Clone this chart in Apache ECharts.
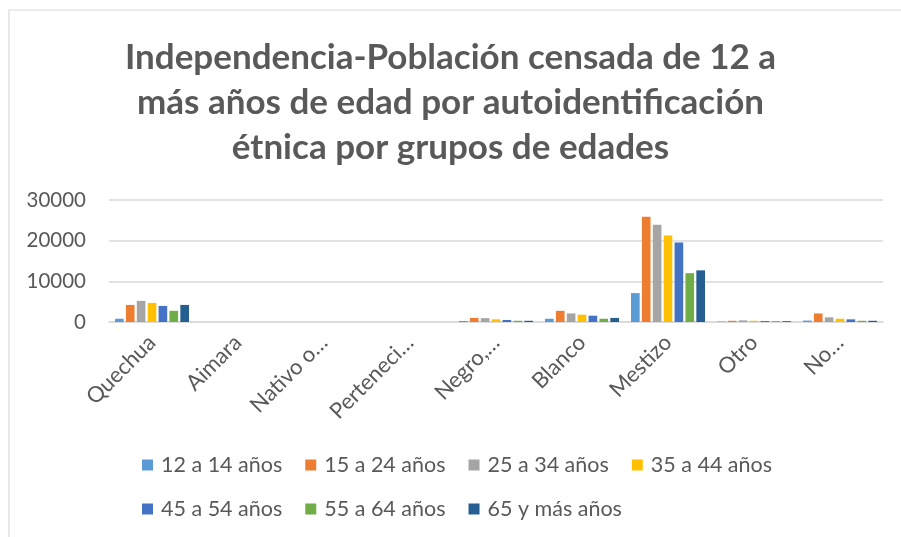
<!DOCTYPE html>
<html>
<head>
<meta charset="utf-8">
<script src="https://cdn.jsdelivr.net/npm/echarts@6/dist/echarts.min.js"></script>
<style>
  html, body { margin: 0; padding: 0; background: #fff; }
  #chart { width: 901px; height: 537px; }
</style>
</head>
<body>
<div id="chart"></div>
<script>
// Ethnic self-identification categories
const categories = ['Quechua', 'Aimara', 'Nativo o…', 'Perteneci…', 'Negro,…', 'Blanco', 'Mestizo', 'Otro', 'No…'];

// Population aged 12+ by age group
const age12to14 = [800, 0, 0, 0, 250, 800, 7100, 100, 350];
const age15to24 = [4200, 0, 0, 0, 1000, 2750, 25900, 300, 2100];
const age25to34 = [5200, 0, 0, 0, 950, 2100, 23900, 400, 1150];
const age35to44 = [4700, 0, 0, 0, 650, 1800, 21300, 300, 800];
const age45to54 = [3950, 0, 0, 0, 500, 1550, 19550, 250, 650];
const age55to64 = [2750, 0, 0, 0, 300, 800, 12000, 200, 300];
const age65plus = [4200, 0, 0, 0, 300, 1000, 12700, 200, 300];

const seriesNames = ['12 a 14 años', '15 a 24 años', '25 a 34 años', '35 a 44 años', '45 a 54 años', '55 a 64 años', '65 y más años'];
const seriesData = [age12to14, age15to24, age25to34, age35to44, age45to54, age55to64, age65plus];
const colors = ['#5B9BD5', '#ED7D31', '#A5A5A5', '#FFC000', '#4472C4', '#70AD47', '#255E91'];

const yTicks = { min: 0, max: 30000, interval: 10000 };

const FONT = 'Lato';
const TEXT = '#595959';
const chart = echarts.init(document.getElementById('chart'), null, { renderer: 'canvas' });

const legendBase = {
  left: 142, itemGap: 23, padding: 0,
  itemWidth: 11, itemHeight: 11, icon: 'rect',
  textStyle: { fontSize: 21.5, color: TEXT, fontFamily: FONT, padding: [0, 0, 0, 3] }
};

chart.setOption({
  animation: false,
  color: colors,
  textStyle: { fontFamily: FONT },
  graphic: [{
    type: 'rect',
    shape: { x: 9, y: 10, width: 900, height: 540 },
    style: { fill: 'none', stroke: '#D9D9D9', lineWidth: 1.2 },
    silent: true
  }],
  title: {
    text: 'Independencia-Población censada de 12 a\nmás años de edad por autoidentificación\nétnica por grupos de edades',
    left: 'center',
    top: 30,
    textStyle: { fontFamily: FONT, fontSize: 35, fontWeight: 'bold', color: TEXT, lineHeight: 45 }
  },
  grid: { left: 109, right: 18, top: 200, bottom: 215, containLabel: false },
  legend: [
    Object.assign({ data: seriesNames.slice(0, 4), top: 454 }, legendBase),
    Object.assign({ data: seriesNames.slice(4), top: 498 }, legendBase)
  ],
  xAxis: {
    type: 'category',
    data: categories,
    axisLine: { show: true, lineStyle: { color: '#D9D9D9', width: 1.5 } },
    axisTick: { show: false },
    axisLabel: { rotate: 45, fontSize: 22, color: TEXT, interval: 0, margin: 17, fontFamily: FONT }
  },
  yAxis: {
    type: 'value',
    min: yTicks.min, max: yTicks.max, interval: yTicks.interval,
    axisLine: { show: false },
    axisTick: { show: false },
    splitLine: { lineStyle: { color: '#D9D9D9', width: 1.5 } },
    axisLabel: { fontSize: 20.5, color: TEXT, margin: 23, fontFamily: FONT, formatter: v => String(v) }
  },
  series: seriesNames.map((name, i) => ({
    name,
    type: 'bar',
    data: seriesData[i],
    barGap: '26%',
    barCategoryGap: '14%',
    itemStyle: { color: colors[i] }
  }))
});
</script>
</body>
</html>
